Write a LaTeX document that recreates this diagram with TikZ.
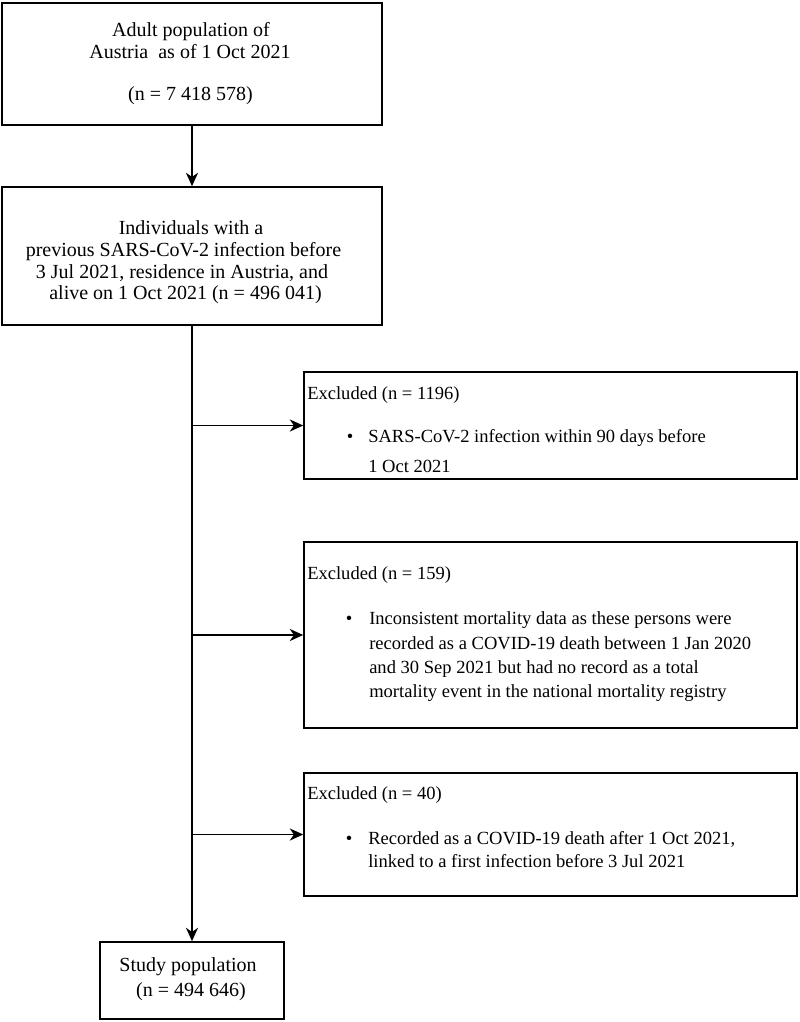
\documentclass[tikz,border=0pt]{standalone}
\usepackage{fontspec}
\setmainfont{Liberation Serif}
\usetikzlibrary{arrows.meta}
\begin{document}
\begin{tikzpicture}[x=0.75pt,y=-0.75pt,
  boxa/.style={draw=black, line width=1.2pt, rectangle, inner sep=0pt},
  maintxt/.style={anchor=base, inner sep=0pt, font=\fontsize{15pt}{18pt}\selectfont},
  extxt/.style={anchor=base west, inner sep=0pt, font=\fontsize{13.9pt}{17pt}\selectfont},
  bul/.style={anchor=base, inner sep=0pt, font=\fontsize{13.9pt}{17pt}\selectfont},
  arr/.style={line width=1.4pt, -{Stealth[length=10pt,width=9pt,inset=3pt]}},
  ln/.style={line width=1.4pt}]
\useasboundingbox (0,0) rectangle (800,1022);
% boxes
\node[boxa, minimum width=380*0.75pt, minimum height=122*0.75pt] (b1) at (192,64) {};
\node[boxa, minimum width=380*0.75pt, minimum height=138*0.75pt] (b2) at (192,256) {};
\node[boxa, minimum width=493*0.75pt, minimum height=107*0.75pt] (b3) at (550.5,425.5) {};
\node[boxa, minimum width=493*0.75pt, minimum height=186*0.75pt] (b4) at (550.5,635) {};
\node[boxa, minimum width=493*0.75pt, minimum height=123*0.75pt] (b5) at (550.5,834.5) {};
\node[boxa, minimum width=184*0.75pt, minimum height=77*0.75pt] (b6) at (192,980.5) {};
% box 1 text
\node[maintxt] (t1a) at (191,36.6) {Adult population of};
\node[maintxt] (t1b) at (190,58.6) {Austria\ \ as of 1 Oct 2021};
\node[maintxt] (t1c) at (190.5,100.6) {(n = 7 418 578)};
% box 2 text
\node[maintxt] (t2a) at (191,234.6) {Individuals with a};
\node[maintxt] (t2b) at (183.5,256.6) {previous SARS-CoV-2 infection before};
\node[maintxt] (t2c) at (182,278.6) {3 Jul 2021, residence in Austria, and};
\node[maintxt] (t2d) at (185.5,299.6) {alive on 1 Oct 2021 (n = 496 041)};
% box 3 text
\node[extxt] (t3a) at (307,399) {Excluded (n = 1196)};
\node[bul] (t3b) at (350,442) {\textbullet};
\node[extxt] (t3c) at (368,442) {SARS-CoV-2 infection within 90 days before};
\node[extxt] (t3d) at (368,472) {1 Oct 2021};
% box 4 text
\node[extxt] (t4a) at (307,579) {Excluded (n = 159)};
\node[bul] (t4b) at (349,624) {\textbullet};
\node[extxt] (t4c) at (369,624) {Inconsistent mortality data as these persons were};
\node[extxt] (t4d) at (369,649) {recorded as a COVID-19 death between 1 Jan 2020};
\node[extxt] (t4e) at (369,673) {and 30 Sep 2021 but had no record as a total};
\node[extxt] (t4f) at (369,697) {mortality event in the national mortality registry};
% box 5 text
\node[extxt] (t5a) at (307,799) {Excluded (n = 40)};
\node[bul] (t5b) at (349,844) {\textbullet};
\node[extxt] (t5c) at (368,844) {Recorded as a COVID-19 death after 1 Oct 2021,};
\node[extxt] (t5d) at (368,867) {linked to a first infection before 3 Jul 2021};
% study population text
\node[maintxt] (t6a) at (188,971.6) {Study population};
\node[maintxt] (t6b) at (191,996.6) {(n = 494 646)};
% connectors
\draw[arr] (b1.south) -- (b2.north);
\draw[arr] (b2.south) -- (b6.north);
\draw[arr] (b2.south |- b3.west) -- (b3.west);
\draw[arr] (b2.south |- b4.west) -- (b4.west);
\draw[arr] (b2.south |- b5.west) -- (b5.west);
\end{tikzpicture}
\end{document}
